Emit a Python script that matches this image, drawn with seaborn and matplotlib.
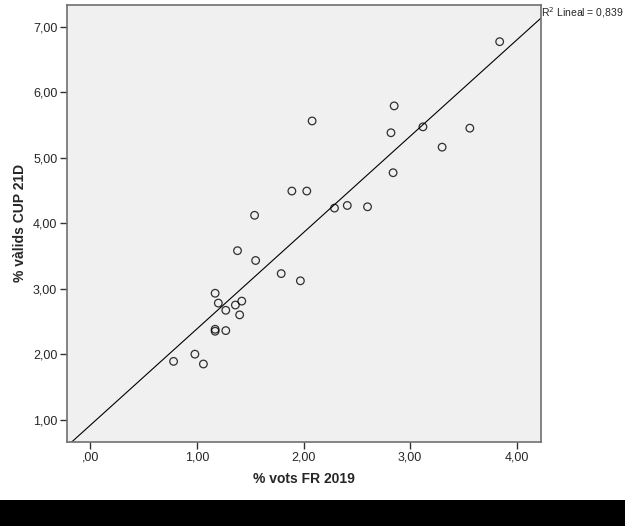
import matplotlib
matplotlib.use("Agg")
import matplotlib.pyplot as plt
import seaborn as sns
import pandas as pd
from matplotlib.patches import Rectangle
from matplotlib.ticker import FuncFormatter

# Dades llegides del gràfic
vots_fr = [2.08, 1.89, 2.03, 1.54, 1.38, 3.84, 2.85, 2.82, 3.12, 3.56,
           3.30, 2.84, 2.29, 2.41, 2.60, 1.55, 1.79, 1.97, 1.17, 1.20,
           1.42, 1.36, 1.27, 1.40, 1.17, 1.17, 1.27, 0.98, 0.78, 1.06]
valids_cup = [5.56, 4.49, 4.49, 4.12, 3.58, 6.77, 5.79, 5.38, 5.47, 5.45,
              5.16, 4.77, 4.23, 4.27, 4.25, 3.43, 3.23, 3.12, 2.93, 2.78,
              2.81, 2.75, 2.67, 2.60, 2.38, 2.35, 2.36, 2.00, 1.89, 1.85]
x_ticks = [0, 1, 2, 3, 4]
y_ticks = [1, 2, 3, 4, 5, 6, 7]
r2_text = "R$^2$ Lineal = 0,839"

df = pd.DataFrame({'vots': vots_fr, 'cup': valids_cup})

sns.set_style("ticks")
plt.rcParams['font.family'] = ['Liberation Sans', 'DejaVu Sans']

fig = plt.figure(figsize=(6.25, 5.26), dpi=100)
ax = fig.add_axes([67 / 625, 1 - 441.7 / 526, (540.7 - 67) / 625, (441.7 - 5) / 526])
ax.set_facecolor('#F0F0F0')
ax.set_xlim(-0.22, 4.225)
ax.set_ylim(0.664, 7.33)

sns.regplot(x='vots', y='cup', data=df, ax=ax, ci=None, truncate=False,
            scatter_kws={'s': 30, 'facecolors': 'none', 'edgecolors': 'black', 'linewidths': 0.9},
            line_kws={'color': 'black', 'linewidth': 0.8})
ax.set_xlim(-0.22, 4.225)
ax.set_ylim(0.664, 7.33)

fmt = FuncFormatter(lambda v, p: ('%.2f' % v).replace('.', ',').lstrip('0') if v < 1 else ('%.2f' % v).replace('.', ','))
ax.set_xticks(x_ticks)
ax.set_yticks(y_ticks)
ax.xaxis.set_major_formatter(fmt)
ax.yaxis.set_major_formatter(fmt)
ax.tick_params(direction='out', length=5, width=1, color='#333333', labelsize=9, pad=2)

for s in ax.spines.values():
    s.set_color('#707070')
    s.set_linewidth(1.2)

ax.set_xlabel('% vots FR 2019', fontsize=10, fontweight='bold', labelpad=6)
ax.set_ylabel('% vàlids CUP 21D', fontsize=10, fontweight='bold', labelpad=4)

fig.text(541 / 625, 1 - 13 / 526, r2_text, fontsize=7.5, va='center', ha='left')

# franja negra inferior
fig.patches.append(Rectangle((0, 0), 1, 26 / 526, transform=fig.transFigure,
                             facecolor='black', edgecolor='none', zorder=0))

fig.savefig('out.png', dpi=100)
